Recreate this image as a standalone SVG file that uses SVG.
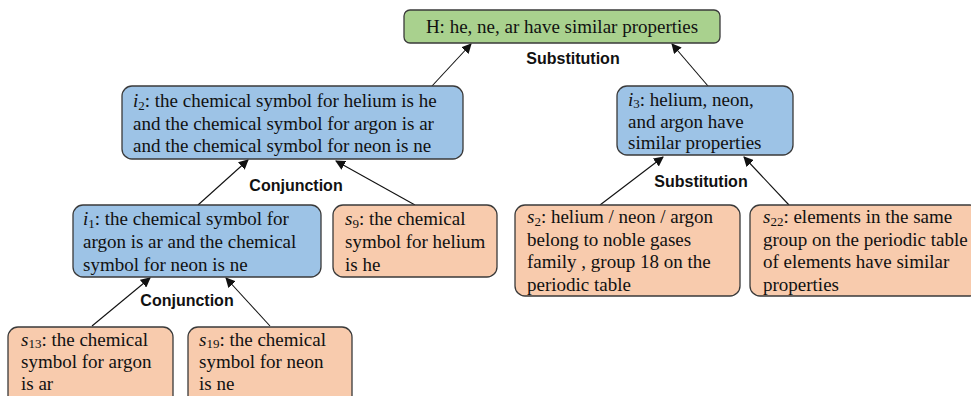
<svg xmlns="http://www.w3.org/2000/svg" width="971" height="396" viewBox="0 0 971 396">
<defs>
<style>
.box{stroke:#3a3a3a;stroke-width:1.3}
.g{fill:#A9D18E}.b{fill:#9DC3E6}.o{fill:#F8CBAD}
.t{font-family:"Liberation Serif","Times New Roman",serif;font-size:19px;fill:#111}
.it{font-style:italic}
.sub{font-size:13px}
.lbl{font-family:"Liberation Sans",Arial,sans-serif;font-size:16px;font-weight:bold;fill:#111;text-anchor:middle}
.edge{stroke:#111;stroke-width:1.1;fill:none;marker-end:url(#arr)}
</style>
<marker id="arr" viewBox="0 0 10 10" refX="9" refY="5" markerWidth="10" markerHeight="10" markerUnits="userSpaceOnUse" orient="auto">
<path d="M0,0 L10,5 L0,10 z" fill="#111"/>
</marker>
</defs>
<rect width="971" height="396" fill="#fff"/>

<g id="edges">
<line class="edge" x1="432" y1="86" x2="471" y2="44"/>
<line class="edge" x1="708" y1="86" x2="672" y2="44"/>
<line class="edge" x1="198" y1="205" x2="248" y2="160"/>
<line class="edge" x1="415" y1="205" x2="336" y2="161"/>
<line class="edge" x1="92" y1="326" x2="150" y2="278"/>
<line class="edge" x1="270" y1="326" x2="226" y2="278"/>
<line class="edge" x1="600" y1="205" x2="663" y2="157"/>
<line class="edge" x1="789" y1="205" x2="744" y2="157"/>
<text class="lbl" x="573" y="64">Substitution</text>
<text class="lbl" x="296" y="191">Conjunction</text>
<text class="lbl" x="701" y="187">Substitution</text>
<text class="lbl" x="187" y="306">Conjunction</text>
</g>

<g id="H">
<rect class="box g" x="404" y="10" width="316" height="33" rx="6"/>
<text class="t" x="562" y="33" text-anchor="middle">H: he, ne, ar have similar properties</text>
</g>

<g id="i2">
<rect class="box b" x="122" y="86" width="341" height="73" rx="10"/>
<text class="t"><tspan x="133" y="107"><tspan class="it">i</tspan><tspan class="sub" dy="3">2</tspan><tspan dy="-3">: the chemical symbol for helium is he</tspan></tspan><tspan x="133" y="129.5">and the chemical symbol for argon is ar</tspan><tspan x="133" y="152">and the chemical symbol for neon is ne</tspan></text>
</g>

<g id="i3">
<rect class="box b" x="617" y="86" width="176" height="69" rx="10"/>
<text class="t"><tspan x="628" y="106"><tspan class="it">i</tspan><tspan class="sub" dy="2">3</tspan><tspan dy="-2">: helium, neon,</tspan></tspan><tspan x="628" y="128">and argon have</tspan><tspan x="628" y="149">similar properties</tspan></text>
</g>

<g id="i1">
<rect class="box b" x="73" y="205" width="248" height="72" rx="10"/>
<text class="t"><tspan x="83" y="225"><tspan class="it">i</tspan><tspan class="sub" dy="3">1</tspan><tspan dy="-3">: the chemical symbol for</tspan></tspan><tspan x="83" y="248">argon is ar and the chemical</tspan><tspan x="83" y="271">symbol for neon is ne</tspan></text>
</g>

<g id="s9">
<rect class="box o" x="333" y="205" width="164" height="72" rx="10"/>
<text class="t"><tspan x="345" y="225"><tspan class="it">s</tspan><tspan class="sub" dy="3">9</tspan><tspan dy="-3">:  the chemical</tspan></tspan><tspan x="345" y="248">symbol for helium</tspan><tspan x="345" y="271">is he</tspan></text>
</g>

<g id="s2">
<rect class="box o" x="515" y="205" width="225" height="91" rx="10"/>
<text class="t"><tspan x="527" y="223"><tspan class="it">s</tspan><tspan class="sub" dy="3">2</tspan><tspan dy="-3">:  helium / neon / argon</tspan></tspan><tspan x="527" y="245.5">belong to noble gases</tspan><tspan x="527" y="268">family , group 18 on the</tspan><tspan x="527" y="290.5">periodic table</tspan></text>
</g>

<g id="s22">
<rect class="box o" x="750" y="205" width="230" height="91" rx="10"/>
<text class="t"><tspan x="763" y="223"><tspan class="it">s</tspan><tspan class="sub" dy="3">22</tspan><tspan dy="-3">: elements in the same</tspan></tspan><tspan x="763" y="245.5">group on the periodic table</tspan><tspan x="763" y="268">of elements have similar</tspan><tspan x="763" y="290.5">properties</tspan></text>
</g>

<g id="s13">
<rect class="box o" x="8" y="327" width="165" height="80" rx="10"/>
<text class="t"><tspan x="21" y="346"><tspan class="it">s</tspan><tspan class="sub" dy="2">13</tspan><tspan dy="-2">:  the chemical</tspan></tspan><tspan x="21" y="368">symbol for argon</tspan><tspan x="21" y="390">is ar</tspan></text>
</g>

<g id="s19">
<rect class="box o" x="188" y="327" width="164" height="80" rx="10"/>
<text class="t"><tspan x="199" y="346"><tspan class="it">s</tspan><tspan class="sub" dy="2">19</tspan><tspan dy="-2">: the chemical</tspan></tspan><tspan x="199" y="368">symbol for neon</tspan><tspan x="199" y="390">is ne</tspan></text>
</g>
</svg>
